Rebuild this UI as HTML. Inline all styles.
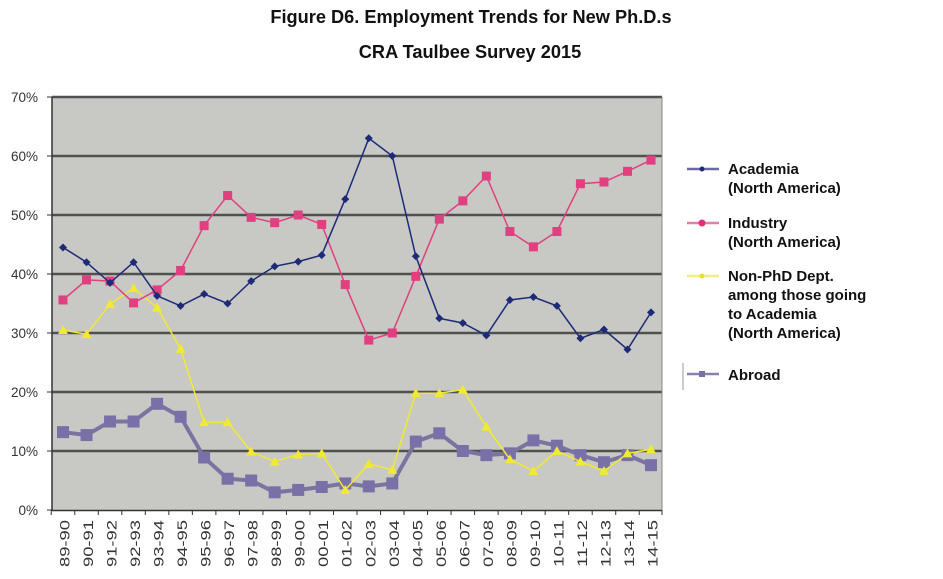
<!DOCTYPE html>
<html><head><meta charset="utf-8"><style>
body{margin:0;background:#fff;width:943px;height:574px;overflow:hidden;font-family:"Liberation Sans",Arial,sans-serif;}
</style></head><body>
<svg id="s" width="943" height="574" xmlns="http://www.w3.org/2000/svg" font-family="Liberation Sans, Arial, sans-serif">
<text x="471" y="23" text-anchor="middle" font-weight="bold" font-size="18.2" fill="#111">Figure D6. Employment Trends for New Ph.D.s</text>
<text x="470" y="58" text-anchor="middle" font-weight="bold" font-size="18.2" fill="#111">CRA Taulbee Survey 2015</text>
<rect x="52" y="97" width="610" height="413" fill="#c8c8c4"/>
<g id="g"></g>
<g font-weight="bold" font-size="15" fill="#111">
<line x1="687" y1="169" x2="719" y2="169" stroke="#6a6aa0" stroke-width="2.5"/><circle cx="702" cy="169" r="2.5" fill="#1c2a78"/>
<text x="728" y="174">Academia</text><text x="728" y="193">(North America)</text>
<line x1="687" y1="223" x2="719" y2="223" stroke="#e080a8" stroke-width="2.5"/><circle cx="702" cy="223" r="3.5" fill="#e0307a"/>
<text x="728" y="228">Industry</text><text x="728" y="247">(North America)</text>
<line x1="687" y1="276" x2="719" y2="276" stroke="#f0ee80" stroke-width="2.5"/><circle cx="702" cy="276" r="2.5" fill="#e8e020"/>
<text x="728" y="281">Non-PhD Dept.</text><text x="728" y="300">among those going</text><text x="728" y="319">to Academia</text><text x="728" y="338">(North America)</text>
<line x1="683" y1="363" x2="683" y2="390" stroke="#999" stroke-width="1"/>
<line x1="687" y1="374" x2="719" y2="374" stroke="#8a80b0" stroke-width="2.5"/><rect x="699" y="371" width="6" height="6" fill="#7a70a8"/>
<text x="728" y="380">Abroad</text>
</g>
</svg>
<script>
var g=document.getElementById('g'),h='';
function Y(v){return 510-v*5.9;}
function X(i){return 63+i*23.52;}
for(var k=1;k<=7;k++){h+='<line x1="52" y1="'+Y(k*10)+'" x2="662" y2="'+Y(k*10)+'" stroke="#505050" stroke-width="2.5"/>';}
for(k=0;k<=7;k++){h+='<text x="38" y="'+(Y(k*10)+5)+'" text-anchor="end" font-size="13.5" fill="#333">'+(k*10)+'%</text>';h+='<line x1="47" y1="'+Y(k*10)+'" x2="52" y2="'+Y(k*10)+'" stroke="#333"/>';}
h+='<line x1="52" y1="97" x2="52" y2="511" stroke="#333" stroke-width="1.5"/><line x1="52" y1="510.5" x2="662" y2="510.5" stroke="#333" stroke-width="1.5"/><line x1="662" y1="97" x2="662" y2="510" stroke="#888"/>';
var labs=["89-90","90-91","91-92","92-93","93-94","94-95","95-96","96-97","97-98","98-99","99-00","00-01","01-02","02-03","03-04","04-05","05-06","06-07","07-08","08-09","09-10","10-11","11-12","12-13","13-14","14-15"];
for(var i=0;i<26;i++){var x=X(i);h+='<line x1="'+(x-11.76)+'" y1="510" x2="'+(x-11.76)+'" y2="515" stroke="#333"/>';
h+='<text transform="translate('+(x+6.5)+',520) rotate(-90)" text-anchor="end" font-size="14" fill="#333" textLength="47" lengthAdjust="spacingAndGlyphs">'+labs[i]+'</text>';}
h+='<line x1="662" y1="510" x2="662" y2="515" stroke="#333"/>';
var S=[
{d:[13.2,12.7,15,15,18,15.8,8.9,5.3,5,3,3.4,3.9,4.5,4,4.5,11.6,13,10,9.3,9.6,11.8,10.9,9.3,8.1,9.3,7.6],c:'#7a70a8',l:'#7a74a0',w:4,m:'sq',r:6},
{d:[30.5,29.8,34.9,37.6,34.3,27.3,14.9,14.9,9.9,8.2,9.4,9.6,3.4,7.8,6.8,19.8,19.8,20.4,14.1,8.6,6.6,10,8.2,6.6,9.6,10.3],c:'#f0ea30',l:'#f0ea30',w:1.5,m:'tri',r:5},
{d:[35.6,39,38.8,35.1,37.3,40.6,48.2,53.3,49.6,48.7,50,48.4,38.2,28.8,30,39.6,49.3,52.4,56.6,47.2,44.6,47.2,55.3,55.6,57.4,59.3],c:'#e0407f',l:'#e0407f',w:1.5,m:'sq',r:4.5},
{d:[44.5,42,38.5,42,36.3,34.6,36.6,35,38.8,41.3,42.1,43.2,52.7,63,60,43,32.5,31.7,29.6,35.6,36.1,34.6,29.1,30.6,27.2,33.5],c:'#1c2a78',l:'#1c2a78',w:1.5,m:'dia',r:4}];
S.forEach(function(s){var p=s.d.map(function(v,i){return X(i).toFixed(1)+','+Y(v).toFixed(1)}).join(' ');
h+='<polyline points="'+p+'" fill="none" stroke="'+s.l+'" stroke-width="'+s.w+'"/>';
s.d.forEach(function(v,i){var x=X(i),y=Y(v),r=s.r;
if(s.m=='sq')h+='<rect x="'+(x-r)+'" y="'+(y-r)+'" width="'+2*r+'" height="'+2*r+'" fill="'+s.c+'"/>';
else if(s.m=='tri')h+='<polygon points="'+x+','+(y-r)+' '+(x-r)+','+(y+r*0.8)+' '+(x+r)+','+(y+r*0.8)+'" fill="'+s.c+'"/>';
else h+='<polygon points="'+x+','+(y-r)+' '+(x+r)+','+y+' '+x+','+(y+r)+' '+(x-r)+','+y+'" fill="'+s.c+'"/>';});});
g.innerHTML=h;
</script>
</body></html>
